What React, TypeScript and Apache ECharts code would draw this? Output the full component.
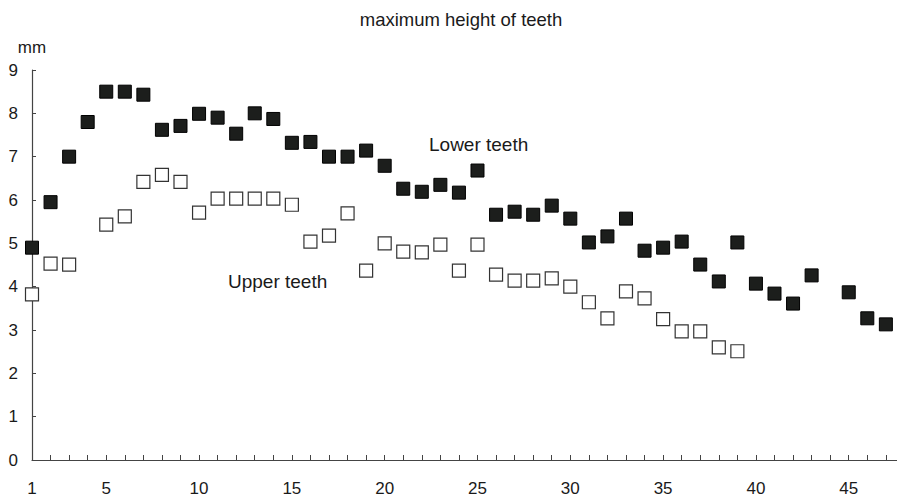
import React, { useEffect, useRef } from "react";
import * as echarts from "echarts";

const toothNumbers = [
  1, 2, 3, 4, 5, 6, 7, 8, 9, 10, 11, 12, 13, 14, 15, 16, 17, 18, 19, 20, 21, 22, 23, 24,
  25, 26, 27, 28, 29, 30, 31, 32, 33, 34, 35, 36, 37, 38, 39, 40, 41, 42, 43, 44, 45, 46, 47,
];

// null = no measurement
const lowerTeeth: (number | null)[] = [
  4.9, 5.95, 7.0, 7.8, 8.5, 8.5, 8.43, 7.62, 7.71, 7.99, 7.9, 7.53, 8.0, 7.87, 7.32, 7.34,
  7.0, 7.0, 7.14, 6.79, 6.26, 6.19, 6.35, 6.17, 6.68, 5.66, 5.73, 5.66, 5.87, 5.57, 5.02,
  5.16, 5.57, 4.83, 4.9, 5.04, 4.51, 4.12, 5.02, 4.07, 3.84, 3.61, 4.26, null, 3.87, 3.27,
  3.13,
];

const upperTeeth: (number | null)[] = [
  3.82, 4.53, 4.51, null, 5.43, 5.62, 6.42, 6.58, 6.42, 5.71, 6.03, 6.03, 6.03, 6.03, 5.89,
  5.04, 5.18, 5.69, 4.37, 5.0, 4.81, 4.79, 4.97, 4.37, 4.97, 4.28, 4.14, 4.14, 4.19, 4.0,
  3.64, 3.27, 3.89, 3.73, 3.25, 2.97, 2.97, 2.6, 2.51,
];

const xLabelValues = [1, 5, 10, 15, 20, 25, 30, 35, 40, 45];

const FONT = "Liberation Sans, Arial, Helvetica, sans-serif";

function toPairs(vals: (number | null)[]) {
  const out: [number, number][] = [];
  vals.forEach((v, i) => {
    if (v !== null) out.push([toothNumbers[i], v]);
  });
  return out;
}

export default function App() {
  const ref = useRef<HTMLDivElement>(null);
  useEffect(() => {
    if (!ref.current) return;
    const chart = echarts.init(ref.current, null, { renderer: "svg" });
    chart.setOption({
      animation: false,
      backgroundColor: "#ffffff",
      title: {
        text: "maximum height of teeth",
        left: 456,
        textAlign: "center",
        top: 5,
        textStyle: { fontFamily: FONT, fontSize: 18.5, fontWeight: "normal", color: "#1a1a1a" },
      },
      grid: { left: 32, right: 0, top: 70, bottom: 40, containLabel: false },
      xAxis: {
        type: "value",
        min: 1,
        max: 47.6,
        interval: 1,
        splitLine: { show: false },
        axisLine: { lineStyle: { color: "#444", width: 1.2 } },
        axisTick: { inside: true, length: 5, lineStyle: { color: "#444" } },
        axisLabel: {
          margin: 20,
          fontFamily: FONT,
          fontSize: 17,
          color: "#1a1a1a",
          showMaxLabel: false,
          formatter: (v: number) => (xLabelValues.includes(v) ? String(v) : ""),
        },
      },
      yAxis: {
        type: "value",
        min: 0,
        max: 9,
        interval: 1,
        name: "mm",
        nameLocation: "end",
        nameGap: 14,
        nameTextStyle: { fontFamily: FONT, fontSize: 17, color: "#1a1a1a", align: "center" },
        splitLine: { show: false },
        axisLine: { show: true, lineStyle: { color: "#444", width: 1.2 } },
        axisTick: { show: true, inside: true, length: 4, lineStyle: { color: "#444" } },
        axisLabel: { margin: 14, fontFamily: FONT, fontSize: 17, color: "#1a1a1a" },
      },
      series: [
        {
          name: "Lower teeth",
          type: "scatter",
          symbol: "rect",
          symbolSize: 13,
          data: toPairs(lowerTeeth),
          itemStyle: { color: "#1c1e1c", borderColor: "#000", borderWidth: 1, opacity: 1 },
          z: 3,
        },
        {
          name: "Upper teeth",
          type: "scatter",
          symbol: "rect",
          symbolSize: 13,
          data: toPairs(upperTeeth),
          itemStyle: { color: "#ffffff", borderColor: "#333", borderWidth: 1.2, opacity: 1 },
          z: 2,
        },
      ],
      graphic: [
        {
          type: "text",
          left: 429,
          top: 135,
          style: { text: "Lower teeth", fontFamily: FONT, fontSize: 19, fill: "#1a1a1a" },
        },
        {
          type: "text",
          left: 228,
          top: 272,
          style: { text: "Upper teeth", fontFamily: FONT, fontSize: 19, fill: "#1a1a1a" },
        },
      ],
    });
    return () => chart.dispose();
  }, []);
  return (
    <div
      ref={ref}
      style={{ position: "fixed", left: 0, top: 0, width: 897, height: 500, background: "#fff" }}
    />
  );
}
